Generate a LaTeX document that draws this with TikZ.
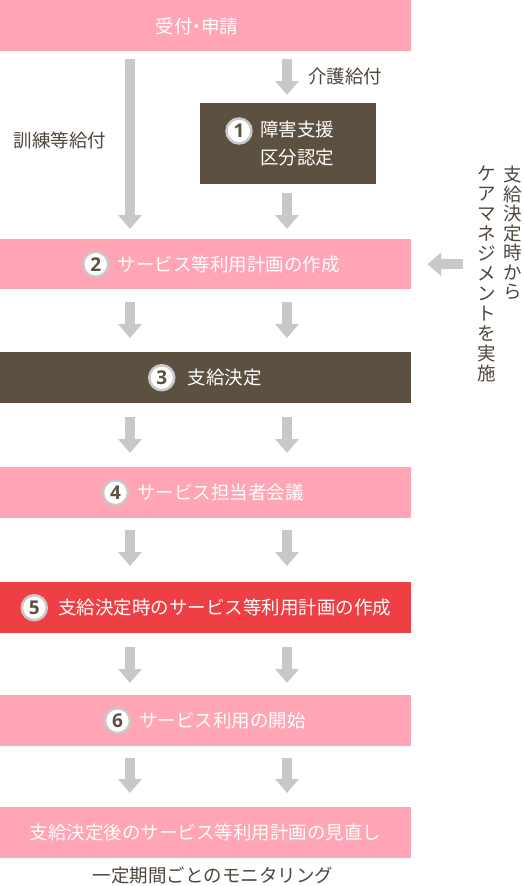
\documentclass[tikz,border=0pt]{standalone}
\usepackage{fontspec}
\setmainfont{Noto Sans CJK JP}
\newfontfamily\numfont{Open Sans}
\usetikzlibrary{arrows.meta,positioning}
\definecolor{boxpink}{HTML}{FFA5B5}
\definecolor{boxdark}{HTML}{5C5140}
\definecolor{boxred}{HTML}{EE3F44}
\definecolor{arrowgray}{HTML}{C8C8C8}
\definecolor{labelbrown}{HTML}{4F463C}

\begin{document}
\begin{tikzpicture}[x=1pt,y=-1pt,font=\fontsize{18.5}{28}\selectfont,
    box/.style={minimum width=411pt,minimum height=51pt,inner sep=0pt,anchor=north west},
    boxtext/.style={text=white,inner sep=0pt},
    numc/.style={circle,fill=white,draw=arrowgray,line width=2.5pt,minimum size=25pt,inner sep=0pt,
        text=boxdark,font=\numfont\bfseries\fontsize{19}{19}\selectfont},
    label/.style={text=labelbrown,inner sep=0pt},
    vtext/.style={text=labelbrown,inner sep=0pt,align=center,anchor=north,font=\fontsize{18.5}{19.5}\selectfont},
    garrow/.style={draw=arrowgray,line width=10pt,-{Triangle[width=23pt,length=14pt]}}]
    \useasboundingbox (0,0) rectangle (523,886);
    \coordinate (colL) at (130,0);
    \coordinate (colR) at (287,0);

    % boxes
    \node[box,fill=boxpink] (recv) at (0,0) {};
    \node[boxtext] (recvt) at (197,26) {受付\kern-5pt・\kern-5pt申請};
    \node[fill=boxdark,minimum width=176pt,minimum height=81pt,inner sep=0pt,anchor=north west] (cert) at (200,103) {};
    \node[boxtext,align=left] (certt) at (297,144) {障害支援\\区分認定};
    \node[numc] (n1) at (239,131) {1};
    \node[box,fill=boxpink,minimum height=50pt] (plan) at (0,239) {};
    \node[boxtext] (plant) at ([xshift=23pt]plan.center) {サービス等利用計画の作成};
    \node[numc,left=8pt of plant] (n2) {2};
    \node[box,fill=boxdark] (decide) at (0,352) {};
    \node[boxtext] (decidet) at ([xshift=19pt]decide.center) {支給決定};
    \node[numc,left=12pt of decidet] (n3) {3};
    \node[box,fill=boxpink] (meet) at (0,467) {};
    \node[boxtext] (meett) at ([xshift=15pt]meet.center) {サービス担当者会議};
    \node[numc,left=8pt of meett] (n4) {4};
    \node[box,fill=boxred] (plan5) at (0,582) {};
    \node[boxtext] (plan5t) at ([xshift=19pt]plan5.center) {支給決定時のサービス等利用計画の作成};
    \node[numc,left=10pt of plan5t] (n5) {5};
    \node[box,fill=boxpink] (start) at (0,695) {};
    \node[boxtext] (startt) at ([xshift=17pt]start.center) {サービス利用の開始};
    \node[numc,left=8pt of startt] (n6) {6};
    \node[box,fill=boxpink] (review) at (0,807) {};
    \node[boxtext] (reviewt) at (review.center) {支給決定後のサービス等利用計画の見直し};
    \node[label] (monitor) at (213,875) {一定期間ごとのモニタリング};

    % side labels
    \node[label] (care) at (345,76) {介護給付};
    \node[label] (train) at (60,140) {訓練等給付};
    \node[vtext] (cm1) at (513,166) {支\\給\\決\\定\\時\\か\\ら};
    \node[vtext,font=\fontsize{18.5}{20}\selectfont] (cm2) at (487,166) {ケ\\ア\\マ\\ネ\\ジ\\メ\\ン\\ト\\を\\実\\施};

    % arrows
    \draw[garrow,shorten <=8pt,shorten >=10pt] (recv.south -| colL) -- (plan.north -| colL);
    \draw[garrow,shorten <=8pt,shorten >=8pt] (recv.south -| colR) -- (cert.north -| colR);
    \draw[garrow,shorten <=9pt,shorten >=10pt] (cert.south -| colR) -- (plan.north -| colR);
    \draw[garrow,shorten <=15pt,shorten >=16pt] (cm2.west |- plan.east) -- (plan.east);
    \draw[garrow,shorten <=13pt,shorten >=14pt] (plan.south -| colL) -- (decide.north -| colL);
    \draw[garrow,shorten <=13pt,shorten >=14pt] (plan.south -| colR) -- (decide.north -| colR);
    \draw[garrow,shorten <=14pt,shorten >=14pt] (decide.south -| colL) -- (meet.north -| colL);
    \draw[garrow,shorten <=14pt,shorten >=14pt] (decide.south -| colR) -- (meet.north -| colR);
    \draw[garrow,shorten <=12pt,shorten >=16pt] (meet.south -| colL) -- (plan5.north -| colL);
    \draw[garrow,shorten <=12pt,shorten >=16pt] (meet.south -| colR) -- (plan5.north -| colR);
    \draw[garrow,shorten <=14pt,shorten >=12pt] (plan5.south -| colL) -- (start.north -| colL);
    \draw[garrow,shorten <=14pt,shorten >=12pt] (plan5.south -| colR) -- (start.north -| colR);
    \draw[garrow,shorten <=12pt,shorten >=14pt] (start.south -| colL) -- (review.north -| colL);
    \draw[garrow,shorten <=12pt,shorten >=14pt] (start.south -| colR) -- (review.north -| colR);
\end{tikzpicture}
\end{document}
